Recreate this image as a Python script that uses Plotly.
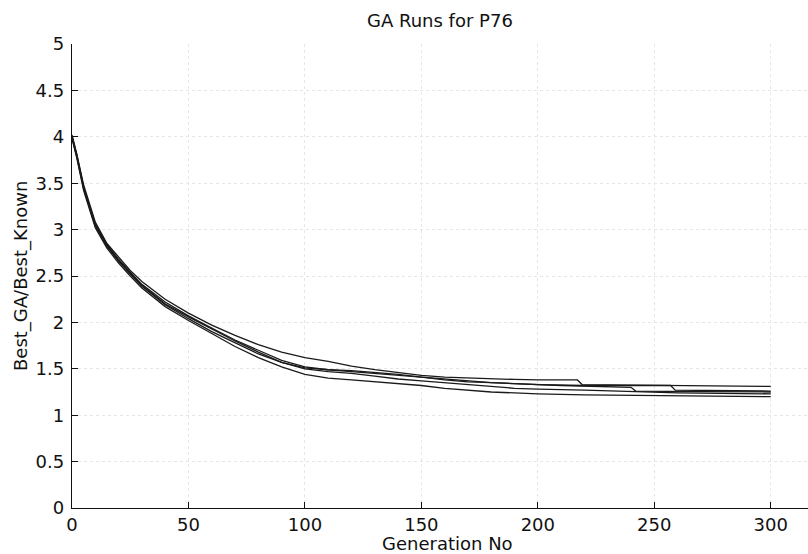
import plotly.graph_objects as go

# Generation samples and best-GA / best-known ratios for each GA run
gen_a = [0, 2, 5, 10, 15, 20, 25, 30, 40, 50, 60, 70, 80, 90, 100, 110, 120, 130, 140, 150,
         160, 170, 180, 190, 200, 217, 219, 260, 300]
run_a = [4.02, 3.82, 3.48, 3.08, 2.85, 2.70, 2.56, 2.44, 2.25, 2.10, 1.97, 1.86, 1.76, 1.68, 1.62,
         1.58, 1.53, 1.49, 1.46, 1.43, 1.41, 1.40, 1.39, 1.385, 1.38, 1.38, 1.33, 1.32, 1.31]

gen_b = [0, 2, 5, 10, 15, 20, 25, 30, 40, 50, 60, 70, 80, 90, 100, 110, 120, 130, 140, 150,
         160, 170, 180, 190, 200, 220, 250, 300]
run_b = [3.98, 3.78, 3.42, 3.02, 2.80, 2.64, 2.50, 2.37, 2.17, 2.02, 1.88, 1.74, 1.62, 1.52, 1.44,
         1.40, 1.38, 1.36, 1.34, 1.32, 1.29, 1.27, 1.25, 1.24, 1.23, 1.22, 1.21, 1.20]

gen_c = [0, 2, 5, 10, 15, 20, 25, 30, 40, 50, 60, 70, 80, 90, 100, 110, 120, 130, 140, 150,
         160, 170, 180, 190, 200, 210, 240, 242, 270, 300]
run_c = [4.00, 3.80, 3.45, 3.05, 2.83, 2.67, 2.53, 2.40, 2.20, 2.06, 1.93, 1.80, 1.68, 1.57, 1.51,
         1.49, 1.48, 1.46, 1.44, 1.41, 1.39, 1.37, 1.35, 1.34, 1.33, 1.32, 1.30, 1.26, 1.255, 1.25]

gen_d = [0, 2, 5, 10, 15, 20, 25, 30, 40, 50, 60, 70, 80, 90, 100, 110, 120, 130, 140, 150,
         160, 170, 180, 190, 200, 220, 260, 300]
run_d = [3.99, 3.79, 3.44, 3.04, 2.82, 2.66, 2.52, 2.39, 2.19, 2.04, 1.90, 1.78, 1.66, 1.57, 1.50,
         1.47, 1.45, 1.42, 1.39, 1.37, 1.35, 1.33, 1.31, 1.29, 1.28, 1.27, 1.24, 1.23]

gen_e = [0, 2, 5, 10, 15, 20, 25, 30, 40, 50, 60, 70, 80, 90, 100, 110, 120, 130, 140, 150,
         160, 170, 180, 200, 220, 257, 259, 300]
run_e = [4.01, 3.81, 3.46, 3.06, 2.84, 2.68, 2.54, 2.41, 2.22, 2.07, 1.94, 1.81, 1.70, 1.59, 1.52,
         1.49, 1.47, 1.45, 1.43, 1.41, 1.38, 1.36, 1.35, 1.33, 1.32, 1.32, 1.27, 1.26]

runs = [(gen_a, run_a), (gen_b, run_b), (gen_c, run_c), (gen_d, run_d), (gen_e, run_e)]

title_text = "GA Runs for P76"
x_label = "Generation No"
y_label = "Best_GA/Best_Known"

FONT = "DejaVu Sans"

fig = go.Figure()
for g, r in runs:
    fig.add_trace(go.Scatter(x=g, y=r, mode="lines",
                             line=dict(color="#1a1a1a", width=1.3),
                             showlegend=False, hoverinfo="skip"))

axis_common = dict(
    showline=True, linecolor="#111", linewidth=1.3,
    ticks="inside", ticklen=6, tickcolor="#111", tickwidth=1.2,
    showgrid=True, gridcolor="#e6e6e6", griddash="dot", gridwidth=1,
    zeroline=False, mirror=False,
    tickfont=dict(family=FONT, size=18, color="#111"),
)

fig.update_xaxes(range=[0, 316], tick0=0, dtick=50, ticklabelstandoff=0, **axis_common)
fig.update_yaxes(range=[0, 5], tick0=0, dtick=0.5, ticklabelstandoff=3, **axis_common)

fig.update_layout(
    width=808, height=554,
    margin=dict(l=72, r=0, t=44, b=46),
    paper_bgcolor="white", plot_bgcolor="white",
    font=dict(family=FONT, color="#111"),
    annotations=[
        dict(text=title_text, xref="paper", yref="paper", x=0.5, y=1, yshift=24,
             xanchor="center", yanchor="middle", showarrow=False,
             font=dict(family=FONT, size=18, color="#111")),
        dict(text=x_label, xref="paper", yref="paper", x=0.5, y=0, xshift=7, yshift=-35,
             xanchor="center", yanchor="middle", showarrow=False,
             font=dict(family=FONT, size=18, color="#111")),
        dict(text=y_label, xref="paper", yref="paper", x=0, y=0.5, xshift=-51,
             xanchor="center", yanchor="middle", textangle=-90, showarrow=False,
             font=dict(family=FONT, size=18, color="#111")),
    ],
)

fig.write_html("out.html")
